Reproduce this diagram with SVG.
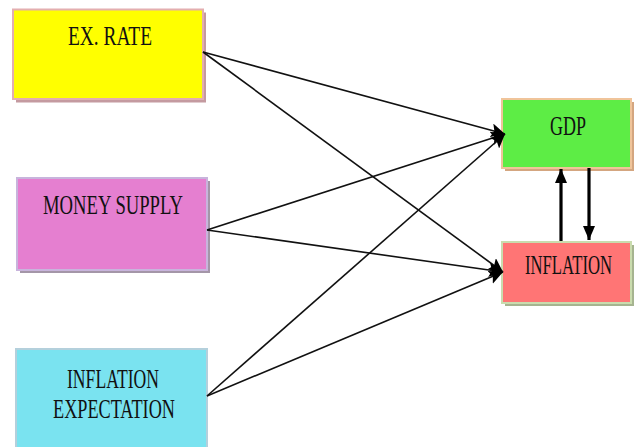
<svg xmlns="http://www.w3.org/2000/svg" width="637" height="447" viewBox="0 0 637 447">
<style>
.t{font-family:"Liberation Serif","Times New Roman",serif;font-size:28px;fill:#111;text-anchor:middle}
.ln{stroke:#111;stroke-width:1.6;fill:none}
.thick{stroke:#000;stroke-width:3.2;fill:none}
</style>
<defs>
<marker id="ah" markerUnits="userSpaceOnUse" markerWidth="14" markerHeight="14" viewBox="0 0 14 14" refX="14" refY="7" orient="auto">
<path d="M0,0 L14,7 L0,14 L3,7 Z" fill="#000"/>
</marker>
<marker id="ah2" markerUnits="userSpaceOnUse" markerWidth="14" markerHeight="14" viewBox="0 0 14 14" refX="14" refY="7" orient="auto">
<path d="M0,1 L14,7 L0,13 Z" fill="#000"/>
</marker>
</defs>
<rect width="637" height="447" fill="#fff"/>
<g id="ex-rate">
<rect x="16" y="12.5" width="190" height="90" fill="#c49aa0"/>
<rect x="13" y="9.5" width="190" height="89.5" fill="#ffff00" stroke="#e3aeb0" stroke-width="2"/>
<text class="t" x="110" y="45" textLength="84" lengthAdjust="spacingAndGlyphs">EX. RATE</text>
</g>
<g id="money-supply">
<rect x="20" y="181" width="190" height="92" fill="#a496a8"/>
<rect x="17" y="178" width="190" height="92" fill="#e57fd0" stroke="#c8b4dc" stroke-width="2"/>
<text class="t" x="113" y="214" textLength="140" lengthAdjust="spacingAndGlyphs">MONEY SUPPLY</text>
</g>
<g id="inflation-expectation">
<rect x="16" y="349" width="191" height="102" fill="#7ae3f0" stroke="#b4d0dc" stroke-width="2"/>
<text class="t" x="113" y="388" textLength="92" lengthAdjust="spacingAndGlyphs">INFLATION</text>
<text class="t" x="114" y="418" textLength="122" lengthAdjust="spacingAndGlyphs">EXPECTATION</text>
</g>
<g id="gdp">
<rect x="505" y="102" width="129" height="69" fill="#d4a680"/>
<rect x="502" y="99" width="129" height="69" fill="#5ded45" stroke="#f0c49a" stroke-width="2"/>
<text class="t" x="568" y="135" textLength="36" lengthAdjust="spacingAndGlyphs">GDP</text>
</g>
<g id="inflation">
<rect x="505" y="245" width="129" height="61" fill="#a6b490"/>
<rect x="502" y="242" width="129" height="61" fill="#ff7575" stroke="#cadcae" stroke-width="2"/>
<text class="t" x="568.5" y="274" style="font-size:27px" textLength="87" lengthAdjust="spacingAndGlyphs">INFLATION</text>
</g>
<g id="connectors">
<line class="ln" x1="203" y1="52" x2="505" y2="134" marker-end="url(#ah)"/>
<line class="ln" x1="203" y1="52" x2="503" y2="272" marker-end="url(#ah)"/>
<line class="ln" x1="207" y1="230" x2="505" y2="134" marker-end="url(#ah)"/>
<line class="ln" x1="207" y1="230" x2="503" y2="272" marker-end="url(#ah)"/>
<line class="ln" x1="207" y1="396" x2="505" y2="134" marker-end="url(#ah)"/>
<line class="ln" x1="207" y1="396" x2="503" y2="272" marker-end="url(#ah)"/>
<line class="thick" x1="561" y1="241" x2="561" y2="169" marker-end="url(#ah2)"/>
<line class="thick" x1="589" y1="168" x2="589" y2="240" marker-end="url(#ah2)"/>
</g>
</svg>
